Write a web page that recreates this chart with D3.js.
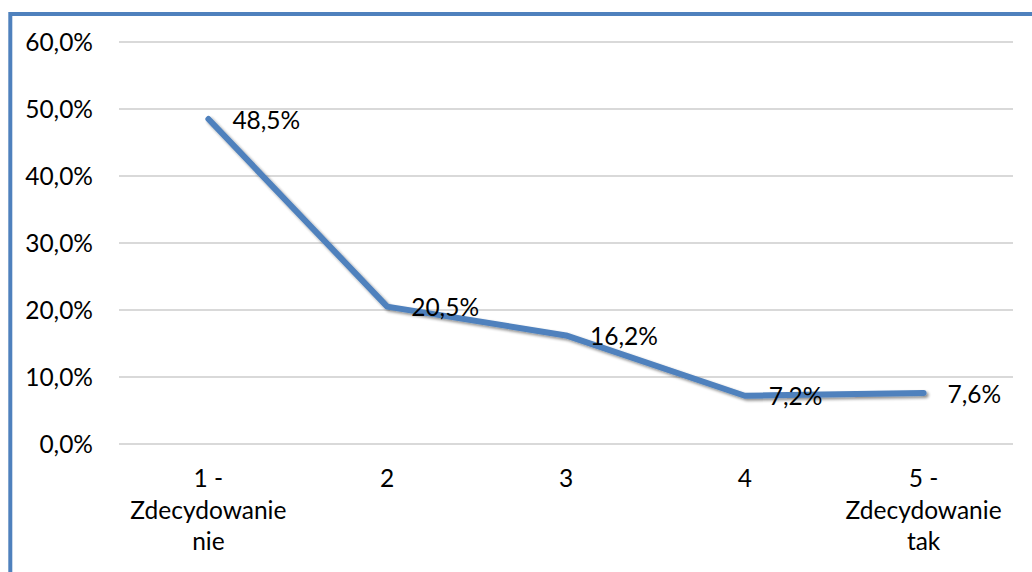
<!DOCTYPE html>
<html>
<head>
<meta charset="utf-8">
<script src="https://cdn.jsdelivr.net/npm/d3@7/dist/d3.min.js"></script>
<style>
  html, body { margin: 0; padding: 0; background: #fff; }
  svg { display: block; }
  text { font-family: Lato, "Open Sans", sans-serif; fill: #000; }
</style>
</head>
<body>
<svg id="chart" width="1032" height="572"></svg>
<script>
const categories = ["1 -\nZdecydowanie\nnie", "2", "3", "4", "5 -\nZdecydowanie\ntak"];
const values = [48.5, 20.5, 16.2, 7.2, 7.6];
const yTicks = [0, 10, 20, 30, 40, 50, 60];
const fmt = v => d3.format(".1f")(v).replace(".", ",") + "%";

const W = 1032, H = 572;
const plot = { left: 119, right: 1013, top: 42, bottom: 444 };
const FS = 24.5;

const svg = d3.select("#chart");

// outer frame (only left and top edges visible in the crop)
svg.append("rect")
  .attr("x", 10.3).attr("y", 14)
  .attr("width", 1200).attr("height", 800)
  .attr("fill", "none")
  .attr("stroke", "#4f81bd")
  .attr("stroke-width", 4);

const x = d3.scaleBand().domain(categories).range([plot.left, plot.right]).padding(0);
const y = d3.scaleLinear().domain([0, 60]).range([plot.bottom, plot.top]);
const cx = c => x(c) + x.bandwidth() / 2;

// gridlines
svg.append("g").selectAll("line").data(yTicks).join("line")
  .attr("x1", plot.left).attr("x2", plot.right)
  .attr("y1", d => y(d)).attr("y2", d => y(d))
  .attr("stroke", "#d9d9d9").attr("stroke-width", 2);

// y axis labels
svg.append("g").selectAll("text").data(yTicks).join("text")
  .attr("x", 93).attr("y", d => y(d) + 9)
  .attr("text-anchor", "end")
  .attr("font-size", FS)
  .text(d => fmt(d));

// x axis labels
const lineYs = [487, 519, 550];
const xl = svg.append("g").selectAll("text").data(categories).join("text")
  .attr("text-anchor", "middle")
  .attr("font-size", FS);
xl.each(function(c) {
  const t = d3.select(this);
  c.split("\n").forEach((ln, i) => {
    t.append("tspan").attr("x", cx(c)).attr("y", lineYs[i]).text(ln);
  });
});

// shadow filter
const defs = svg.append("defs");
const f = defs.append("filter").attr("id", "sh").attr("x", "-10%").attr("y", "-10%").attr("width", "120%").attr("height", "130%");
f.append("feGaussianBlur").attr("in", "SourceAlpha").attr("stdDeviation", 1.5).attr("result", "b");
f.append("feOffset").attr("in", "b").attr("dx", 1.5).attr("dy", 2).attr("result", "o");
f.append("feComponentTransfer").attr("in", "o").attr("result", "o2")
  .append("feFuncA").attr("type", "linear").attr("slope", 0.45);
const m = f.append("feMerge");
m.append("feMergeNode").attr("in", "o2");
m.append("feMergeNode").attr("in", "SourceGraphic");

const data = categories.map((c, i) => ({ c, v: values[i] }));
const line = d3.line().x(d => cx(d.c)).y(d => y(d.v));

svg.append("path")
  .datum(data)
  .attr("d", line)
  .attr("fill", "none")
  .attr("stroke", "#4f81bd")
  .attr("stroke-width", 6)
  .attr("stroke-linecap", "round")
  .attr("stroke-linejoin", "round")
  .attr("filter", "url(#sh)");

// data labels
svg.append("g").selectAll("text").data(data).join("text")
  .attr("x", d => cx(d.c) + 24)
  .attr("y", d => y(d.v) + 9.5)
  .attr("font-size", FS)
  .text(d => fmt(d.v));
</script>
</body>
</html>
